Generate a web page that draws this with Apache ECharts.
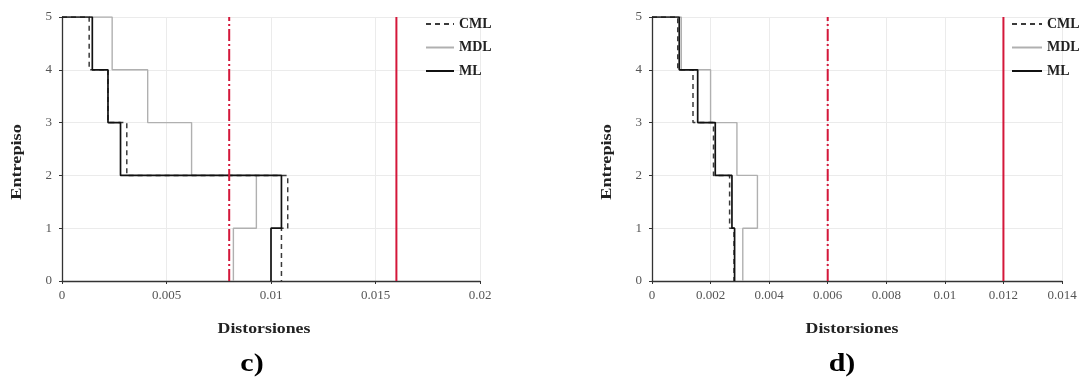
<!DOCTYPE html>
<html>
<head>
<meta charset="utf-8">
<script src="https://cdn.jsdelivr.net/npm/echarts@6/dist/echarts.min.js"></script>
<style>
html,body{margin:0;padding:0;background:#fff;}
#chart{width:1086px;height:383px;}
</style>
</head>
<body>
<div id="chart"></div>
<script>
// Storeys (entrepiso), bottom to top
const storeys = [1, 2, 3, 4, 5];
const seriesNames = ['CML', 'MDL', 'ML'];

// Panel c) drifts per storey (storey 1..5)
const c_CML = [0.0105, 0.0108, 0.0031, 0.0022, 0.0013];
const c_MDL = [0.0082, 0.0093, 0.0062, 0.0041, 0.0024];
const c_ML  = [0.0100, 0.0105, 0.0028, 0.0022, 0.00145];
const c_limits = [0.008, 0.016]; // dash-dot, solid

// Panel d) drifts per storey (storey 1..5)
const d_CML = [0.0028, 0.00265, 0.0021, 0.0014, 0.00088];
const d_MDL = [0.0031, 0.0036, 0.0029, 0.0020, 0.0010];
const d_ML  = [0.00282, 0.00273, 0.00216, 0.00156, 0.00093];
const d_limits = [0.006, 0.012];

// Axis settings
const c_xTicks = { min: 0, max: 0.02, interval: 0.005 };
const d_xTicks = { min: 0, max: 0.014, interval: 0.002 };
const yTicks = { min: 0, max: 5, interval: 1 };

const FONT = "'Liberation Serif','Times New Roman',serif";

function stepPath(vals) {
  const n = vals.length;
  const pts = [[0, storeys[n - 1]]];
  for (let i = n - 1; i >= 0; i--) {
    pts.push([vals[i], storeys[i]]);
    pts.push([vals[i], storeys[i] - 1]);
  }
  return pts;
}

const styles = {
  CML: { color: '#3a3a3a', width: 1.5, type: [5, 4] },
  MDL: { color: '#b0b0b0', width: 1.4, type: 'solid' },
  ML:  { color: '#111111', width: 1.7, type: 'solid' }
};

function mkSeries(name, vals, idx) {
  return {
    name: name, type: 'line', xAxisIndex: idx, yAxisIndex: idx,
    data: stepPath(vals), symbol: 'none', showSymbol: false, animation: false,
    lineStyle: styles[name], itemStyle: { color: styles[name].color }, z: 3
  };
}
function mkLimit(x, dashdot, idx) {
  return {
    name: 'lim' + idx + (dashdot ? 'a' : 'b'), type: 'line', xAxisIndex: idx, yAxisIndex: idx,
    data: [[x, yTicks.min], [x, yTicks.max]], symbol: 'none', animation: false,
    lineStyle: { color: '#d4173a', width: 2, type: dashdot ? [12, 3, 2, 3] : 'solid' }, z: 4
  };
}

function fmt(v) { return String(+v.toFixed(4)); }

function xAxis(ticks, idx) {
  return {
    type: 'value', gridIndex: idx, min: ticks.min, max: ticks.max, interval: ticks.interval,
    axisLine: { show: true, onZero: false, lineStyle: { color: '#333', width: 1.3 } },
    axisTick: { show: true, length: 3, lineStyle: { color: '#333' } },
    axisLabel: { formatter: fmt, color: '#555', fontFamily: FONT, fontSize: 13, margin: 8 },
    splitLine: { show: true, lineStyle: { color: '#ebebeb', width: 1 } }
  };
}
function yAxis(idx) {
  return {
    type: 'value', gridIndex: idx, min: yTicks.min, max: yTicks.max, interval: yTicks.interval,
    axisLine: { show: true, onZero: false, lineStyle: { color: '#333', width: 1.3 } },
    axisTick: { show: true, length: 3, lineStyle: { color: '#333' } },
    axisLabel: { color: '#555', fontFamily: FONT, fontSize: 13, margin: 10 },
    splitLine: { show: true, lineStyle: { color: '#ebebeb', width: 1 } }
  };
}
function legend(left, w) {
  return {
    data: seriesNames, orient: 'vertical', left: left, top: 12,
    itemWidth: w, itemHeight: 14, itemGap: 9.5,
    itemStyle: { opacity: 0 },
    textStyle: { fontFamily: FONT, fontWeight: 'bold', fontSize: 14, color: '#222' },
    selectedMode: false
  };
}
function title(text, x, y, size, rot, sx, fill) {
  return { type: 'text', x: x, y: y, rotation: rot, scaleX: sx,
    style: { text: text, fontFamily: FONT, fontWeight: 'bold', fontSize: size, fill: fill, align: 'center', verticalAlign: 'middle' } };
}

const chart = echarts.init(document.getElementById('chart'), null, { renderer: 'canvas' });
chart.setOption({
  backgroundColor: '#fff',
  animation: false,
  grid: [
    { left: 62, top: 17, width: 418, height: 264 },
    { left: 652, top: 17, width: 410, height: 264 }
  ],
  xAxis: [xAxis(c_xTicks, 0), xAxis(d_xTicks, 1)],
  yAxis: [yAxis(0), yAxis(1)],
  legend: [legend(420, 28), legend(1006, 30)],
  series: [
    mkLimit(c_limits[0], true, 0), mkLimit(c_limits[1], false, 0),
    mkSeries('MDL', c_MDL, 0), mkSeries('CML', c_CML, 0), mkSeries('ML', c_ML, 0),
    mkLimit(d_limits[0], true, 1), mkLimit(d_limits[1], false, 1),
    mkSeries('MDL', d_MDL, 1), mkSeries('CML', d_CML, 1), mkSeries('ML', d_ML, 1)
  ],
  graphic: [
    title('Entrepiso', 17, 162, 14, Math.PI / 2, 1.3, '#222'),
    title('Entrepiso', 607, 162, 14, Math.PI / 2, 1.3, '#222'),
    title('Distorsiones', 264, 329, 14, 0, 1.27, '#222'),
    title('Distorsiones', 852, 329, 14, 0, 1.27, '#222'),
    title('c)', 252, 365, 25, 0, 1.2, '#000'),
    title('d)', 842, 365, 25, 0, 1.2, '#000')
  ]
});
</script>
</body>
</html>
